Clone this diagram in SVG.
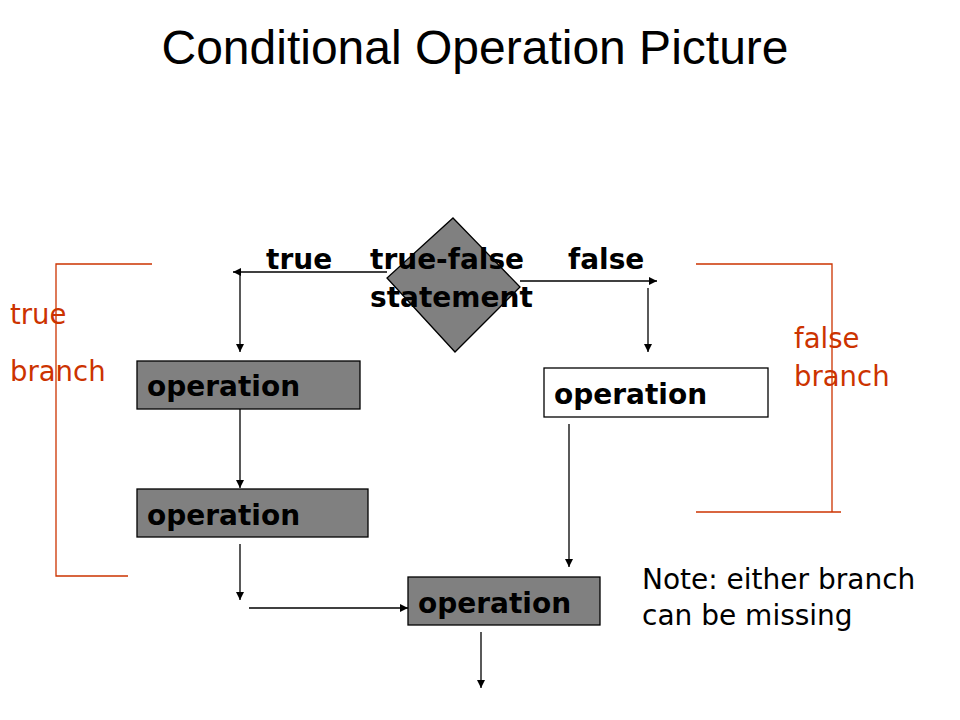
<svg xmlns="http://www.w3.org/2000/svg" width="960" height="720" viewBox="0 0 960 720">
<style>
.title{font-family:"Liberation Sans",Arial,sans-serif;font-size:48px;fill:#000}
.bold{font-family:"DejaVu Sans",Verdana,sans-serif;font-weight:bold;font-size:28px;fill:#000}
.red{font-family:"DejaVu Sans",Verdana,sans-serif;font-size:27.5px;fill:#CC3300}
.note{font-family:"DejaVu Sans",Verdana,sans-serif;font-size:28px;fill:#000}
.op{fill:#808080;stroke:#000;stroke-width:1.3}
.opw{fill:#fff;stroke:#000;stroke-width:1.3}
.con{fill:none;stroke:#000;stroke-width:1.3}
.brk{fill:none;stroke:#CC3300;stroke-width:1.3}
</style>
<defs>
<marker id="ah" viewBox="0 0 10 10" refX="10" refY="5" markerWidth="9" markerHeight="8" markerUnits="userSpaceOnUse" orient="auto">
<path d="M0,0 L10,5 L0,10 z" fill="#000"/>
</marker>
</defs>
<rect width="960" height="720" fill="#fff"/>
<text class="title" x="475" y="64" text-anchor="middle">Conditional Operation Picture</text>

<g id="decision">
<polygon points="453,218 520,287 455,352 387,278" class="op"/>
</g>
<g id="labels">
<text class="bold" x="266" y="269">true</text>
<text class="bold" x="370" y="269">true-false</text>
<text class="bold" x="370" y="307">statement</text>
<text class="bold" x="568" y="269">false</text>
</g>

<g id="op-true-1">
<rect x="137" y="361" width="223" height="48" class="op"/>
<text class="bold" x="147" y="396">operation</text>
</g>
<g id="op-true-2">
<rect x="137" y="489" width="231" height="48" class="op"/>
<text class="bold" x="147" y="525">operation</text>
</g>
<g id="op-false">
<rect x="544" y="368" width="224" height="49" class="opw"/>
<text class="bold" x="554" y="404">operation</text>
</g>
<g id="op-join">
<rect x="408" y="577" width="192" height="48" class="op"/>
<text class="bold" x="418" y="613">operation</text>
</g>

<g id="connectors">
<line x1="387" y1="272" x2="233" y2="272" class="con" marker-end="url(#ah)"/>
<line x1="240" y1="272" x2="240" y2="352" class="con" marker-end="url(#ah)"/>
<line x1="520" y1="281" x2="657" y2="281" class="con" marker-end="url(#ah)"/>
<line x1="648" y1="288" x2="648" y2="352" class="con" marker-end="url(#ah)"/>
<line x1="240" y1="409" x2="240" y2="488" class="con" marker-end="url(#ah)"/>
<line x1="240" y1="544" x2="240" y2="600" class="con" marker-end="url(#ah)"/>
<line x1="249" y1="608" x2="408" y2="608" class="con" marker-end="url(#ah)"/>
<line x1="569" y1="424" x2="569" y2="567" class="con" marker-end="url(#ah)"/>
<line x1="481" y1="632" x2="481" y2="688" class="con" marker-end="url(#ah)"/>
</g>

<g id="true-branch">
<polyline points="152,264 56,264 56,576 128,576" class="brk"/>
<text class="red" x="10" y="324">true</text>
<text class="red" x="10" y="381">branch</text>
</g>
<g id="false-branch">
<polyline points="696,264 832,264 832,512" class="brk"/>
<line x1="696" y1="512" x2="841" y2="512" class="brk"/>
<text class="red" x="794" y="348">false</text>
<text class="red" x="794" y="386">branch</text>
</g>

<g id="note">
<text class="note" x="642" y="589">Note: either branch</text>
<text class="note" x="642" y="625">can be missing</text>
</g>
</svg>
